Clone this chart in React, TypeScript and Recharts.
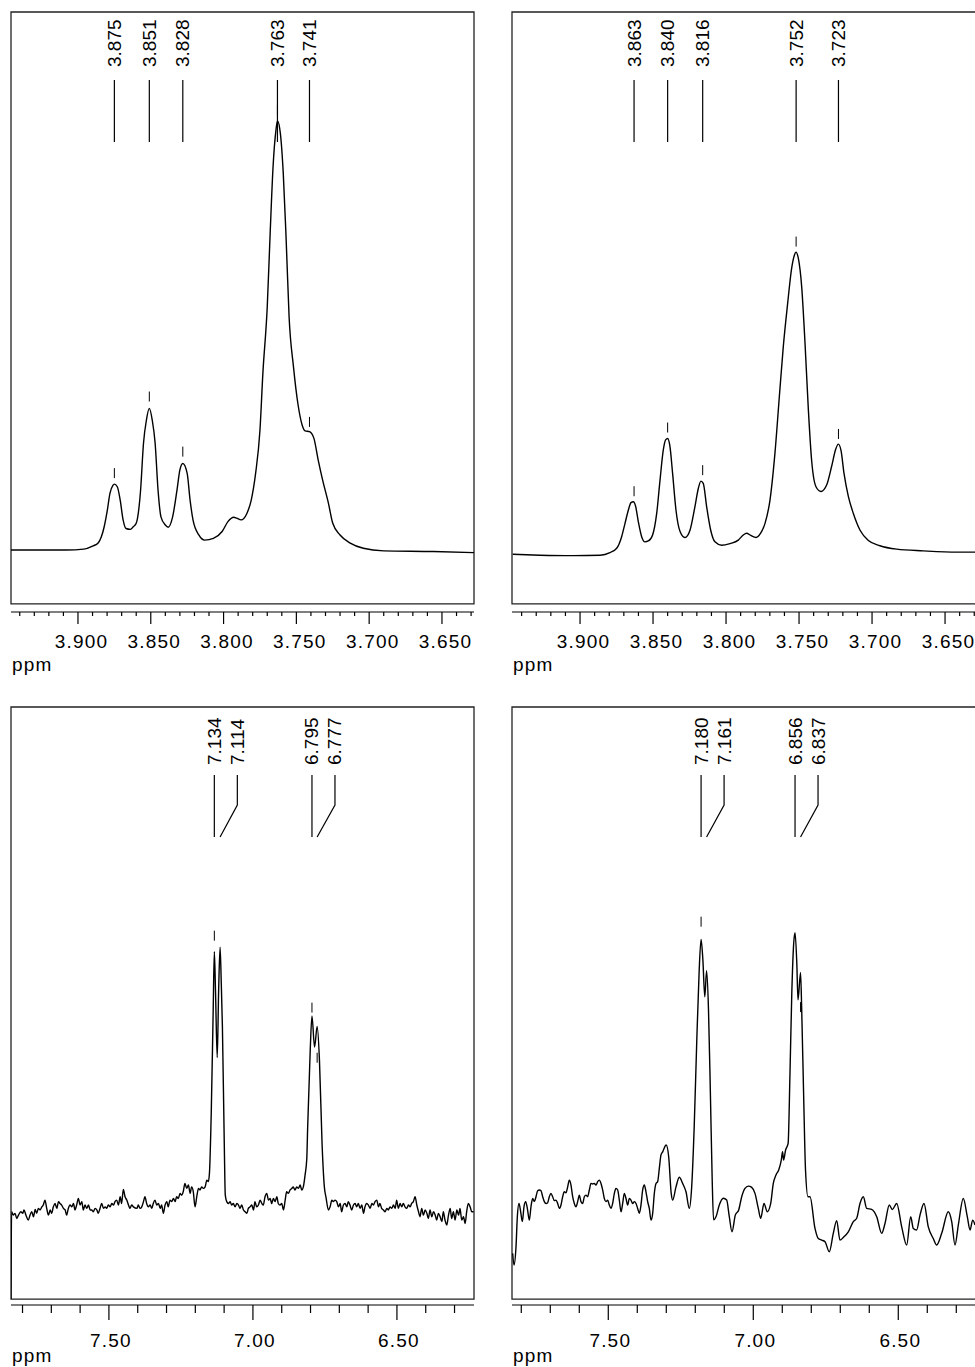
import { ComposedChart, Line, Scatter, XAxis, YAxis, ReferenceArea } from "recharts"

const FONT = "'Liberation Sans', Arial, Helvetica, sans-serif"

// [ppm, intensity]
const topLeftSpectrum: [number, number][] = [
    [3.946, 0.0], [3.908, 0.0], [3.896, 0.2], [3.890, 0.9], [3.886, 1.7], [3.884, 3.0],
    [3.882, 5.4], [3.880, 8.9], [3.878, 13.2], [3.876, 15.0], [3.875, 15.3], [3.873, 14.7],
    [3.871, 11.6], [3.869, 7.0], [3.867, 5.0], [3.864, 4.8], [3.862, 5.4], [3.860, 6.2],
    [3.857, 13.9], [3.855, 24.8], [3.853, 30.2], [3.851, 32.9], [3.849, 30.2], [3.847, 24.8],
    [3.845, 13.9], [3.843, 7.7], [3.840, 5.8], [3.838, 5.3], [3.835, 7.7], [3.832, 13.9],
    [3.830, 18.6], [3.828, 20.1], [3.825, 17.8], [3.823, 11.6], [3.821, 7.0], [3.817, 3.5],
    [3.813, 2.3], [3.807, 2.7], [3.801, 4.3], [3.797, 6.6], [3.793, 7.6], [3.791, 7.4],
    [3.788, 7.0], [3.784, 8.5], [3.781, 11.6], [3.778, 17.8], [3.775, 27.9], [3.773, 41.1],
    [3.770, 56.5], [3.768, 73.6], [3.766, 89.1], [3.764, 97.6], [3.763, 99.7], [3.761, 96.8],
    [3.759, 87.5], [3.757, 72.0], [3.755, 54.2], [3.752, 42.6], [3.749, 34.1], [3.746, 29.0],
    [3.744, 27.7], [3.741, 27.5], [3.738, 26.0], [3.735, 20.9], [3.732, 16.3], [3.728, 10.9],
    [3.725, 6.2], [3.720, 3.5], [3.713, 1.6], [3.704, 0.4], [3.690, -0.2], [3.656, -0.35],
    [3.628, -0.6],
]

const topRightSpectrum: [number, number][] = [
    [3.9461, -1.0], [3.9274, -1.2], [3.9046, -1.3], [3.8863, -1.2], [3.8795, -0.6], [3.8749, 0.4],
    [3.8715, 3.1], [3.8692, 6.2], [3.8669, 9.3], [3.8651, 11.0], [3.8635, 11.2], [3.8619, 10.1],
    [3.8601, 6.6], [3.8578, 3.1], [3.8555, 1.9], [3.8532, 2.1], [3.8503, 3.5], [3.8475, 8.5],
    [3.8452, 16.3], [3.8430, 23.2], [3.8414, 25.6], [3.8400, 25.9], [3.8384, 24.0], [3.8366, 17.8],
    [3.8343, 9.3], [3.8315, 4.3], [3.8281, 2.9], [3.8247, 4.6], [3.8213, 10.1], [3.8190, 14.3],
    [3.8172, 16.0], [3.8156, 15.5], [3.8133, 10.1], [3.8105, 4.6], [3.8076, 1.9], [3.8030, 1.1],
    [3.7973, 1.5], [3.7916, 2.3], [3.7882, 3.5], [3.7859, 3.9], [3.7831, 3.4], [3.7795, 2.9],
    [3.7763, 3.9], [3.7733, 6.2], [3.7699, 11.6], [3.7665, 22.5], [3.7635, 35.6], [3.7608, 47.2],
    [3.7578, 57.3], [3.7551, 65.4], [3.7532, 68.5], [3.7521, 69.2], [3.7505, 67.8], [3.7482, 61.2],
    [3.7459, 48.0], [3.7436, 32.5], [3.7414, 20.9], [3.7384, 14.7], [3.7350, 13.6], [3.7311, 15.1],
    [3.7277, 19.4], [3.7249, 23.4], [3.7231, 24.6], [3.7213, 23.2], [3.7192, 17.8], [3.7162, 12.4],
    [3.7128, 8.5], [3.7082, 4.6], [3.7025, 2.2], [3.6946, 1.0], [3.6831, 0.2], [3.6649, -0.2],
    [3.6420, -0.5], [3.6288, -0.5],
]

const bottomLeftSpectrum: [number, number][] = [
    [7.840, -34], [7.838, -0.4], [7.832, -1.7], [7.826, -1.0], [7.820, -3.0], [7.814, -1.7],
    [7.806, -0.4], [7.799, -1.0], [7.795, 0.3], [7.788, -1.7], [7.780, -3.6], [7.774, -1.7],
    [7.768, -0.4], [7.762, -2.3], [7.756, 0.5], [7.751, -1.0], [7.745, 0.9], [7.739, 0.3],
    [7.733, 1.5], [7.728, 2.2], [7.722, 4.1], [7.716, 0.9], [7.710, -1.7], [7.704, 0.3],
    [7.699, -1.0], [7.693, 1.5], [7.687, 2.8], [7.681, 0.9], [7.675, 3.5], [7.670, 2.8],
    [7.664, 2.2], [7.658, 0.9], [7.652, 0.3], [7.647, -1.7], [7.641, 0.9], [7.635, 2.2],
    [7.629, 1.5], [7.623, 2.8], [7.618, 0.3], [7.612, 2.2], [7.606, 4.7], [7.600, 2.2],
    [7.594, 3.5], [7.589, 0.3], [7.583, 2.2], [7.577, 0.9], [7.571, 2.2], [7.565, 0.3],
    [7.560, 0.3], [7.554, -0.4], [7.548, 0.9], [7.542, 0.3], [7.537, -1.0], [7.531, 0.9],
    [7.525, 2.8], [7.519, 0.9], [7.513, 1.5], [7.508, 0.9], [7.502, 2.2], [7.496, 1.5],
    [7.490, 2.8], [7.484, 2.2], [7.479, 3.5], [7.473, 4.1], [7.467, 2.2], [7.461, 5.4],
    [7.456, 2.8], [7.450, 8.2], [7.444, 5.4], [7.438, 4.1], [7.432, 2.2], [7.427, 0.9],
    [7.421, 2.2], [7.415, 1.5], [7.403, 0.9], [7.398, 2.2], [7.392, 0.9], [7.386, 1.5],
    [7.380, 3.5], [7.375, 5.4], [7.369, 2.8], [7.363, 1.5], [7.357, 2.2], [7.351, 0.9],
    [7.346, 2.8], [7.340, 4.1], [7.334, 2.2], [7.328, 2.8], [7.322, 0.9], [7.317, 2.2],
    [7.311, -1.0], [7.305, 2.2], [7.299, 3.5], [7.294, 1.5], [7.288, 4.1], [7.282, 3.5],
    [7.276, 4.7], [7.270, 3.5], [7.265, 5.4], [7.259, 4.7], [7.253, 6.7], [7.247, 6.0],
    [7.242, 7.3], [7.236, 10.5], [7.230, 8.6], [7.224, 9.9], [7.218, 6.7], [7.213, 9.2],
    [7.207, 7.3], [7.201, 1.5], [7.195, 5.4], [7.189, 8.6], [7.184, 8.0], [7.178, 9.2],
    [7.172, 8.6], [7.166, 9.2], [7.160, 11.8], [7.155, 11.2], [7.151, 14.4], [7.1445, 38.8],
    [7.138, 77.0], [7.134, 99.8], [7.130, 85.0], [7.124, 59.0], [7.119, 85.0], [7.114, 101.5],
    [7.110, 88.0], [7.106, 71.0], [7.0995, 26.0], [7.096, 6.0], [7.091, 3.5], [7.085, 2.8],
    [7.079, 3.5], [7.074, 2.2], [7.068, 2.8], [7.062, 1.5], [7.056, 2.8], [7.050, 2.2],
    [7.045, 0.9], [7.039, 2.2], [7.033, 0.3], [7.027, -0.4], [7.021, -1.0], [7.016, 0.9],
    [7.010, 1.5], [7.004, 2.2], [6.998, 0.3], [6.993, 3.5], [6.987, 1.5], [6.981, 2.2],
    [6.975, 4.1], [6.969, 2.8], [6.964, 2.2], [6.958, 5.4], [6.952, 6.7], [6.946, 4.1],
    [6.940, 4.7], [6.935, 2.8], [6.929, 4.7], [6.923, 3.5], [6.917, 5.4], [6.912, 2.8],
    [6.906, 2.2], [6.900, 2.8], [6.894, 0.3], [6.888, 4.1], [6.883, 7.3], [6.877, 6.7],
    [6.871, 8.0], [6.865, 8.6], [6.860, 9.2], [6.854, 8.0], [6.848, 9.2], [6.842, 8.6],
    [6.836, 9.9], [6.8305, 8.0], [6.825, 9.2], [6.819, 13.7], [6.813, 20.0], [6.810, 32.0],
    [6.801, 62.0], [6.795, 75.0], [6.786, 63.0], [6.777, 71.0], [6.769, 58.0], [6.760, 26.0],
    [6.752, 9.2], [6.746, 5.0], [6.738, 0.3], [6.732, 1.5], [6.726, 4.1], [6.721, 3.5],
    [6.715, 4.1], [6.709, 3.5], [6.703, 1.5], [6.697, 2.8], [6.692, -0.4], [6.686, 2.2],
    [6.680, 2.8], [6.674, 1.5], [6.669, 3.5], [6.663, 2.2], [6.657, 0.3], [6.651, 2.2],
    [6.645, 2.8], [6.640, 1.5], [6.634, 2.8], [6.628, 0.9], [6.622, 2.2], [6.616, -1.0],
    [6.611, 1.5], [6.605, 2.8], [6.599, 2.2], [6.593, 0.9], [6.587, 2.8], [6.582, 2.2],
    [6.576, 3.5], [6.570, 4.1], [6.564, 1.5], [6.559, 2.8], [6.553, 0.9], [6.547, 0.3],
    [6.541, -0.4], [6.535, 0.9], [6.530, 0.3], [6.524, 1.5], [6.518, 0.9], [6.512, 2.2],
    [6.506, 0.9], [6.501, 4.1], [6.495, 0.9], [6.489, 2.8], [6.483, 1.5], [6.478, 2.8],
    [6.472, 1.5], [6.466, 0.9], [6.460, 2.2], [6.454, 1.5], [6.449, 2.8], [6.443, 3.5],
    [6.437, 5.4], [6.431, 2.2], [6.425, -0.4], [6.420, -2.3], [6.414, 0.9], [6.408, -1.7],
    [6.402, 0.3], [6.396, -1.0], [6.391, -3.0], [6.385, 0.3], [6.379, -2.3], [6.373, -0.4],
    [6.367, -1.7], [6.362, -3.6], [6.356, -1.0], [6.350, -2.3], [6.344, -4.2], [6.339, -0.4],
    [6.333, -3.6], [6.327, -5.5], [6.321, -1.7], [6.315, 0.9], [6.310, -3.0], [6.304, -0.4],
    [6.298, -3.6], [6.292, 0.3], [6.286, -1.7], [6.281, 0.9], [6.275, -3.6], [6.269, -2.3],
    [6.263, -4.9], [6.258, -0.4], [6.252, 2.8], [6.246, 1.5], [6.240, -0.4], [6.234, -0.4],
]

const bottomRightSpectrum: [number, number][] = [
    [7.8297, -16.4], [7.8251, -20.9], [7.8182, -13.9], [7.8136, -2.3], [7.8079, 2.8], [7.8021, -0.4],
    [7.7964, -4.2], [7.7906, 1.6], [7.7849, 3.5], [7.7791, 0.9], [7.7722, -3.6], [7.7665, 1.6],
    [7.7607, 4.7], [7.7550, 3.5], [7.7492, 5.4], [7.7435, 7.7], [7.7378, 8.0], [7.7320, 7.7],
    [7.7262, 5.4], [7.7205, 3.5], [7.7148, 2.8], [7.7090, 3.1], [7.7033, 5.4], [7.6976, 6.7],
    [7.6918, 5.4], [7.6860, 3.9], [7.6803, 4.1], [7.6745, 2.8], [7.6688, 0.9], [7.6630, 2.2],
    [7.6573, 5.4], [7.6516, 7.3], [7.6458, 6.9], [7.6400, 9.2], [7.6343, 11.8], [7.6286, 9.9],
    [7.6228, 5.4], [7.6171, 2.8], [7.6113, 1.5], [7.6056, 3.5], [7.5998, 6.0], [7.5941, 3.5],
    [7.5884, 2.8], [7.5826, 5.4], [7.5769, 6.0], [7.5711, 5.4], [7.5653, 8.0], [7.5596, 10.5],
    [7.5538, 10.3], [7.5481, 10.5], [7.5424, 9.9], [7.5366, 11.2], [7.5309, 11.8], [7.5251, 10.5],
    [7.5194, 8.0], [7.5136, 4.7], [7.5079, 3.5], [7.5021, 4.1], [7.4964, 2.2], [7.4906, 0.9],
    [7.4849, 2.8], [7.4791, 6.7], [7.4734, 8.6], [7.4676, 8.0], [7.4619, 4.1], [7.4561, -0.4],
    [7.4504, 2.8], [7.4447, 6.7], [7.4389, 4.7], [7.4332, 2.2], [7.4274, 4.7], [7.4217, 4.1],
    [7.4159, 2.8], [7.4102, 3.5], [7.4044, 2.8], [7.3987, 0.9], [7.3929, -1.0], [7.3872, 2.2],
    [7.3814, 8.0], [7.3757, 9.9], [7.3700, 7.3], [7.3642, 3.5], [7.3585, 0.9], [7.3527, -3.6],
    [7.3469, -1.0], [7.3412, 6.7], [7.3354, 10.5], [7.3297, 11.2], [7.3240, 16.3], [7.3182, 21.5],
    [7.3125, 22.7], [7.3003, 25.3], [7.2917, 20.8], [7.2830, 6.7], [7.2778, 4.1], [7.2665, 9.2],
    [7.2551, 12.9], [7.2434, 10.5], [7.2320, 7.3], [7.2206, 0.9], [7.2124, 9.2], [7.2037, 32.4],
    [7.1951, 64.5], [7.1865, 92.7], [7.1800, 104.5], [7.1738, 96.6], [7.1672, 82.4], [7.1610, 92.4],
    [7.1544, 77.3], [7.1479, 45.2], [7.1417, 12.0], [7.1370, -3.5], [7.1286, -2.3], [7.1172, 2.2],
    [7.1034, 4.8], [7.0917, 4.1], [7.0827, -2.3], [7.0734, -8.1], [7.0620, -1.7], [7.0503, 0.3],
    [7.0399, 5.4], [7.0286, 8.6], [7.0171, 9.5], [7.0054, 9.0], [6.9941, 6.7], [6.9827, 0.9],
    [6.9744, -2.9], [6.9630, 2.8], [6.9517, -0.4], [6.9399, 2.8], [6.9310, 10.5], [6.9217, 13.8],
    [6.9123, 15.7], [6.9034, 19.5], [6.8990, 22.7], [6.8955, 19.5], [6.8886, 23.4], [6.8799, 25.9],
    [6.8737, 51.6], [6.8672, 83.7], [6.8606, 103.0], [6.8560, 107.1], [6.8499, 95.3], [6.8458, 81.2],
    [6.8370, 91.8], [6.8330, 77.3], [6.8265, 45.2], [6.8199, 15.7], [6.8113, 5.4], [6.8044, 5.4],
    [6.7872, -6.8], [6.7758, -10.7], [6.7641, -11.3], [6.7527, -11.9], [6.7379, -15.8], [6.7241, -8.7],
    [6.7124, -3.8], [6.7010, -11.3], [6.6896, -10.3], [6.6723, -8.1], [6.6551, -4.2], [6.6434, -2.9],
    [6.6320, 2.8], [6.6206, 5.4], [6.6089, 0.9], [6.5917, 0.5], [6.5744, -2.3], [6.5572, -8.7],
    [6.5458, -4.9], [6.5310, 2.2], [6.5206, 0.5], [6.5055, 2.8], [6.4882, -6.2], [6.4710, -13.2],
    [6.4572, -2.3], [6.4482, -6.8], [6.4366, -7.4], [6.4251, -1.7], [6.4113, 2.8], [6.3965, -6.2],
    [6.3793, -10.7], [6.3676, -13.2], [6.3503, -8.7], [6.3276, -0.4], [6.3158, -4.2], [6.3044, -13.2],
    [6.2930, -5.5], [6.2758, 4.7], [6.2620, -2.3], [6.2527, -7.4], [6.2434, -3.6], [6.2355, -5.5],
]

// picked peaks and the level of their small "|" marks (null = no mark drawn)
const topLeftPeaks = [3.875, 3.851, 3.828, 3.763, 3.741]
const topLeftMarks = [16.7, 34.5, 21.7, 101, 28.6]
const topRightPeaks = [3.863, 3.840, 3.816, 3.752, 3.723]
const topRightMarks = [12.5, 27.3, 17.4, 70.5, 25.8]
const bottomLeftPeaks = [7.134, 7.114, 6.795, 6.777]
const bottomLeftMarks = [104, null, 76.3, 57.0]
const bottomRightPeaks = [7.180, 7.161, 6.856, 6.837]
const bottomRightMarks = [109.4, null, null, 76.5]

const topTicks = [
    3.94, 3.93, 3.92, 3.91, 3.90, 3.89, 3.88, 3.87, 3.86, 3.85, 3.84, 3.83, 3.82, 3.81, 3.80, 3.79,
    3.78, 3.77, 3.76, 3.75, 3.74, 3.73, 3.72, 3.71, 3.70, 3.69, 3.68, 3.67, 3.66, 3.65, 3.64, 3.63,
]
const topMajorTicks = [3.90, 3.85, 3.80, 3.75, 3.70, 3.65]
const bottomTicks = [7.8, 7.7, 7.6, 7.5, 7.4, 7.3, 7.2, 7.1, 7.0, 6.9, 6.8, 6.7, 6.6, 6.5, 6.4, 6.3]
const bottomMajorTicks = [7.5, 7.0, 6.5]

type PanelProps = {
    left: number
    top: number
    plotWidth: number
    plotHeight: number
    axisHeight: number
    xDomain: [number, number]
    yDomain: [number, number]
    frameBottom: number
    spectrum: [number, number][]
    peaks: number[]
    marks: (number | null)[]
    ticks: number[]
    majorTicks: number[]
    digits: number
    minorLen: number
    majorLen: number
    tickLabelDy: number
    tickLabelDx: number
    unitDy: number
    peakTextBottom: number
}

const PANEL_WIDTH = 490
const MARGIN_TOP = 12
const MARGIN_LEFT = 11
const LABEL_GAP = 23

function SpectrumPanel(p: PanelProps) {
    const marginRight = PANEL_WIDTH - MARGIN_LEFT - p.plotWidth
    const height = MARGIN_TOP + p.plotHeight + p.axisHeight
    const pxPerPpm = p.plotWidth / (p.xDomain[1] - p.xDomain[0])

    const lineData = p.spectrum.map(([ppm, v]) => ({ ppm, v }))

    // labels are pushed right when two peaks sit too close
    const labelData: { ppm: number; v: number; peak: number }[] = []
    p.peaks.forEach((peak, i) => {
        const prev = labelData[i - 1]
        const ppm = prev ? Math.min(peak, prev.ppm - LABEL_GAP / pxPerPpm) : peak
        labelData.push({ ppm, v: p.yDomain[1], peak })
    })

    const markData = p.peaks
        .map((peak, i) => ({ ppm: peak, v: p.marks[i] }))
        .filter((d) => d.v !== null)

    const renderTick = (props: any) => {
        const { x, y, payload } = props
        const value = payload.value as number
        const major = p.majorTicks.some((m) => Math.abs(m - value) < 1e-6)
        return (
            <g>
                <line x1={x} x2={x} y1={y} y2={y + (major ? p.majorLen : p.minorLen)} stroke="#000" strokeWidth={1.2} />
                {major && (
                    <text
                        x={x + p.tickLabelDx}
                        y={y + p.tickLabelDy}
                        textAnchor="middle"
                        fontFamily={FONT}
                        fontSize={19}
                        letterSpacing={1.2}
                        fill="#000"
                    >
                        {value.toFixed(p.digits)}
                    </text>
                )}
            </g>
        )
    }

    const renderUnit = (props: any) => {
        const vb = props.viewBox
        return (
            <text x={vb.x + 1} y={vb.y + p.unitDy} fontFamily={FONT} fontSize={19} letterSpacing={1.2} fill="#000">
                ppm
            </text>
        )
    }

    const renderPeakLabel = (props: any) => {
        const { cx, cy, payload } = props
        const peakX = cx + (payload.ppm - payload.peak) * pxPerPpm
        return (
            <g>
                <text
                    transform={`translate(${cx},${cy + p.peakTextBottom}) rotate(-90)`}
                    textAnchor="start"
                    dominantBaseline="central"
                    fontFamily={FONT}
                    fontSize={19}
                    fill="#000"
                >
                    {payload.peak.toFixed(3)}
                </text>
                <path
                    d={`M${cx},${cy + 68}L${cx},${cy + 98}L${peakX},${cy + 130}`}
                    fill="none"
                    stroke="#000"
                    strokeWidth={1.2}
                />
            </g>
        )
    }

    const renderMark = (props: any) => (
        <line x1={props.cx} x2={props.cx} y1={props.cy - 10} y2={props.cy} stroke="#000" strokeWidth={1} />
    )

    return (
        <div style={{ position: "absolute", left: p.left, top: p.top }}>
            <ComposedChart
                width={PANEL_WIDTH}
                height={height}
                margin={{ top: MARGIN_TOP, right: marginRight, bottom: 0, left: MARGIN_LEFT }}
            >
                <XAxis
                    dataKey="ppm"
                    type="number"
                    domain={p.xDomain}
                    reversed
                    allowDataOverflow
                    ticks={p.ticks}
                    interval={0}
                    tickLine={false}
                    tickSize={0}
                    tickMargin={0}
                    tick={renderTick}
                    axisLine={{ stroke: "#000", strokeWidth: 1.2 }}
                    height={p.axisHeight}
                    label={renderUnit}
                />
                <YAxis hide type="number" domain={p.yDomain} allowDataOverflow />
                <ReferenceArea
                    x1={p.xDomain[1]}
                    x2={p.xDomain[0]}
                    y1={p.frameBottom}
                    y2={p.yDomain[1]}
                    fill="none"
                    fillOpacity={0}
                    stroke="#222"
                    strokeWidth={1.3}
                    ifOverflow="visible"
                />
                <Line
                    data={lineData}
                    dataKey="v"
                    type="monotone"
                    dot={false}
                    activeDot={false}
                    stroke="#000"
                    strokeWidth={1.4}
                    isAnimationActive={false}
                />
                <Scatter data={markData} dataKey="v" shape={renderMark} isAnimationActive={false} />
                <Scatter data={labelData} dataKey="v" shape={renderPeakLabel} isAnimationActive={false} />
            </ComposedChart>
        </div>
    )
}

const topRow = {
    top: 0,
    plotHeight: 600,
    axisHeight: 68,
    yDomain: [-14.4, 125] as [number, number],
    frameBottom: -12.5,
    ticks: topTicks,
    majorTicks: topMajorTicks,
    digits: 3,
    minorLen: 4,
    majorLen: 12,
    tickLabelDy: 36,
    tickLabelDx: 3.5,
    unitDy: 58.5,
    peakTextBottom: 55,
}

const bottomRow = {
    top: 695,
    plotHeight: 598,
    axisHeight: 62,
    yDomain: [-36.3, 194] as [number, number],
    frameBottom: -34,
    ticks: bottomTicks,
    majorTicks: bottomMajorTicks,
    digits: 2,
    minorLen: 8,
    majorLen: 15,
    tickLabelDy: 41.7,
    tickLabelDx: 2,
    unitDy: 56.7,
    peakTextBottom: 58,
}

export default function App() {
    return (
        <div
            style={{
                position: "absolute",
                left: 0,
                top: 0,
                width: 975,
                height: 1367,
                overflow: "hidden",
                background: "#fff",
            }}
        >
            <SpectrumPanel
                {...topRow}
                left={0}
                plotWidth={463}
                xDomain={[3.628, 3.946]}
                spectrum={topLeftSpectrum}
                peaks={topLeftPeaks}
                marks={topLeftMarks}
            />
            <SpectrumPanel
                {...topRow}
                left={501}
                plotWidth={464}
                xDomain={[3.6288, 3.9466]}
                spectrum={topRightSpectrum}
                peaks={topRightPeaks}
                marks={topRightMarks}
            />
            <SpectrumPanel
                {...bottomRow}
                left={0}
                plotWidth={463}
                xDomain={[6.2324, 7.84]}
                spectrum={bottomLeftSpectrum}
                peaks={bottomLeftPeaks}
                marks={bottomLeftMarks}
            />
            <SpectrumPanel
                {...bottomRow}
                left={501}
                plotWidth={464}
                xDomain={[6.232, 7.832]}
                spectrum={bottomRightSpectrum}
                peaks={bottomRightPeaks}
                marks={bottomRightMarks}
            />
        </div>
    )
}
